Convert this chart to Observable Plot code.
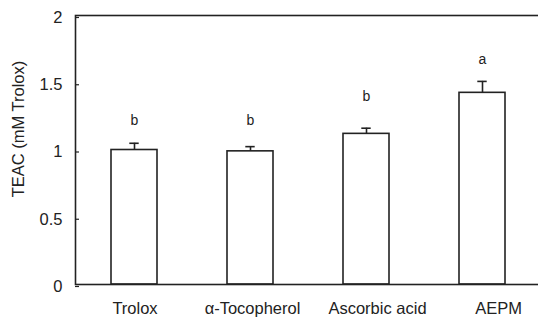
<!DOCTYPE html>
<html>
<head>
<meta charset="utf-8">
<script src="https://cdn.jsdelivr.net/npm/d3@7"></script>
<script src="https://cdn.jsdelivr.net/npm/@observablehq/plot@0.6"></script>
<style>
  html, body { margin: 0; padding: 0; background: #fff; overflow: hidden; }
  #chart svg { display: block; }
</style>
</head>
<body>
<div id="chart"></div>
<script>
// Data
const categories = ["Trolox", "α-Tocopherol", "Ascorbic acid", "AEPM"];
const teac = [1.00, 0.99, 1.12, 1.425];
const sd = [0.05, 0.035, 0.042, 0.085];
const letters = ["b", "b", "b", "a"];
const letterY = [1.216, 1.216, 1.40, 1.676];
const yTicks = [0, 0.5, 1, 1.5, 2];
const yTitle = "TEAC (mM Trolox)";

const rows = categories.map((c, i) => ({cat: c, v: teac[i], e: sd[i], letter: letters[i], ly: letterY[i]}));

// small per-label horizontal nudges (style), as in the original figure
const labelShift = [0.5, 2, 11, 16];

const ink = "#222";
const font = "'Liberation Sans', Arial, sans-serif";

const plot = Plot.plot({
  width: 538,
  height: 324,
  marginLeft: 75,
  marginRight: -4,
  marginTop: 15,
  marginBottom: 40,
  style: {fontFamily: font, fontSize: "16.5px", color: ink, background: "#fff"},
  x: {domain: categories, paddingInner: 0.6, paddingOuter: 0.3, axis: null},
  y: {domain: [0, 2], axis: null},
  marks: [
    Plot.barY(rows, {x: "cat", y: "v", fill: "#fff", stroke: ink, strokeWidth: 1.6}),
    Plot.ruleX(rows, {x: "cat", y1: "v", y2: d => d.v + d.e, stroke: ink, strokeWidth: 1.6}),
    Plot.tickY(rows, {x: "cat", y: d => d.v + d.e, stroke: ink, strokeWidth: 1.6, insetLeft: 18.3, insetRight: 18.3}),
    Plot.text(rows, {x: "cat", y: "ly", text: "letter", fontSize: 14, fill: ink}),
    Plot.frame({stroke: ink, strokeWidth: 1.6}),
    Plot.axisY({ticks: yTicks, tickFormat: d => String(d), tickSize: -4, tickPadding: 17, dy: 2, fontSize: 16.5, stroke: ink, strokeWidth: 1.2, fill: ink}),
    ...categories.map((c, i) => Plot.text([c], {x: d => d, frameAnchor: "bottom", dy: 29, dx: labelShift[i], fontSize: 16.5, fill: ink})),
    Plot.text([yTitle], {text: d => d, y: () => 1.156, frameAnchor: "left", textAnchor: "middle", dx: -57, rotate: -90, fontSize: 16.5, fill: ink})
  ]
});
document.getElementById("chart").append(plot);
</script>
</body>
</html>
